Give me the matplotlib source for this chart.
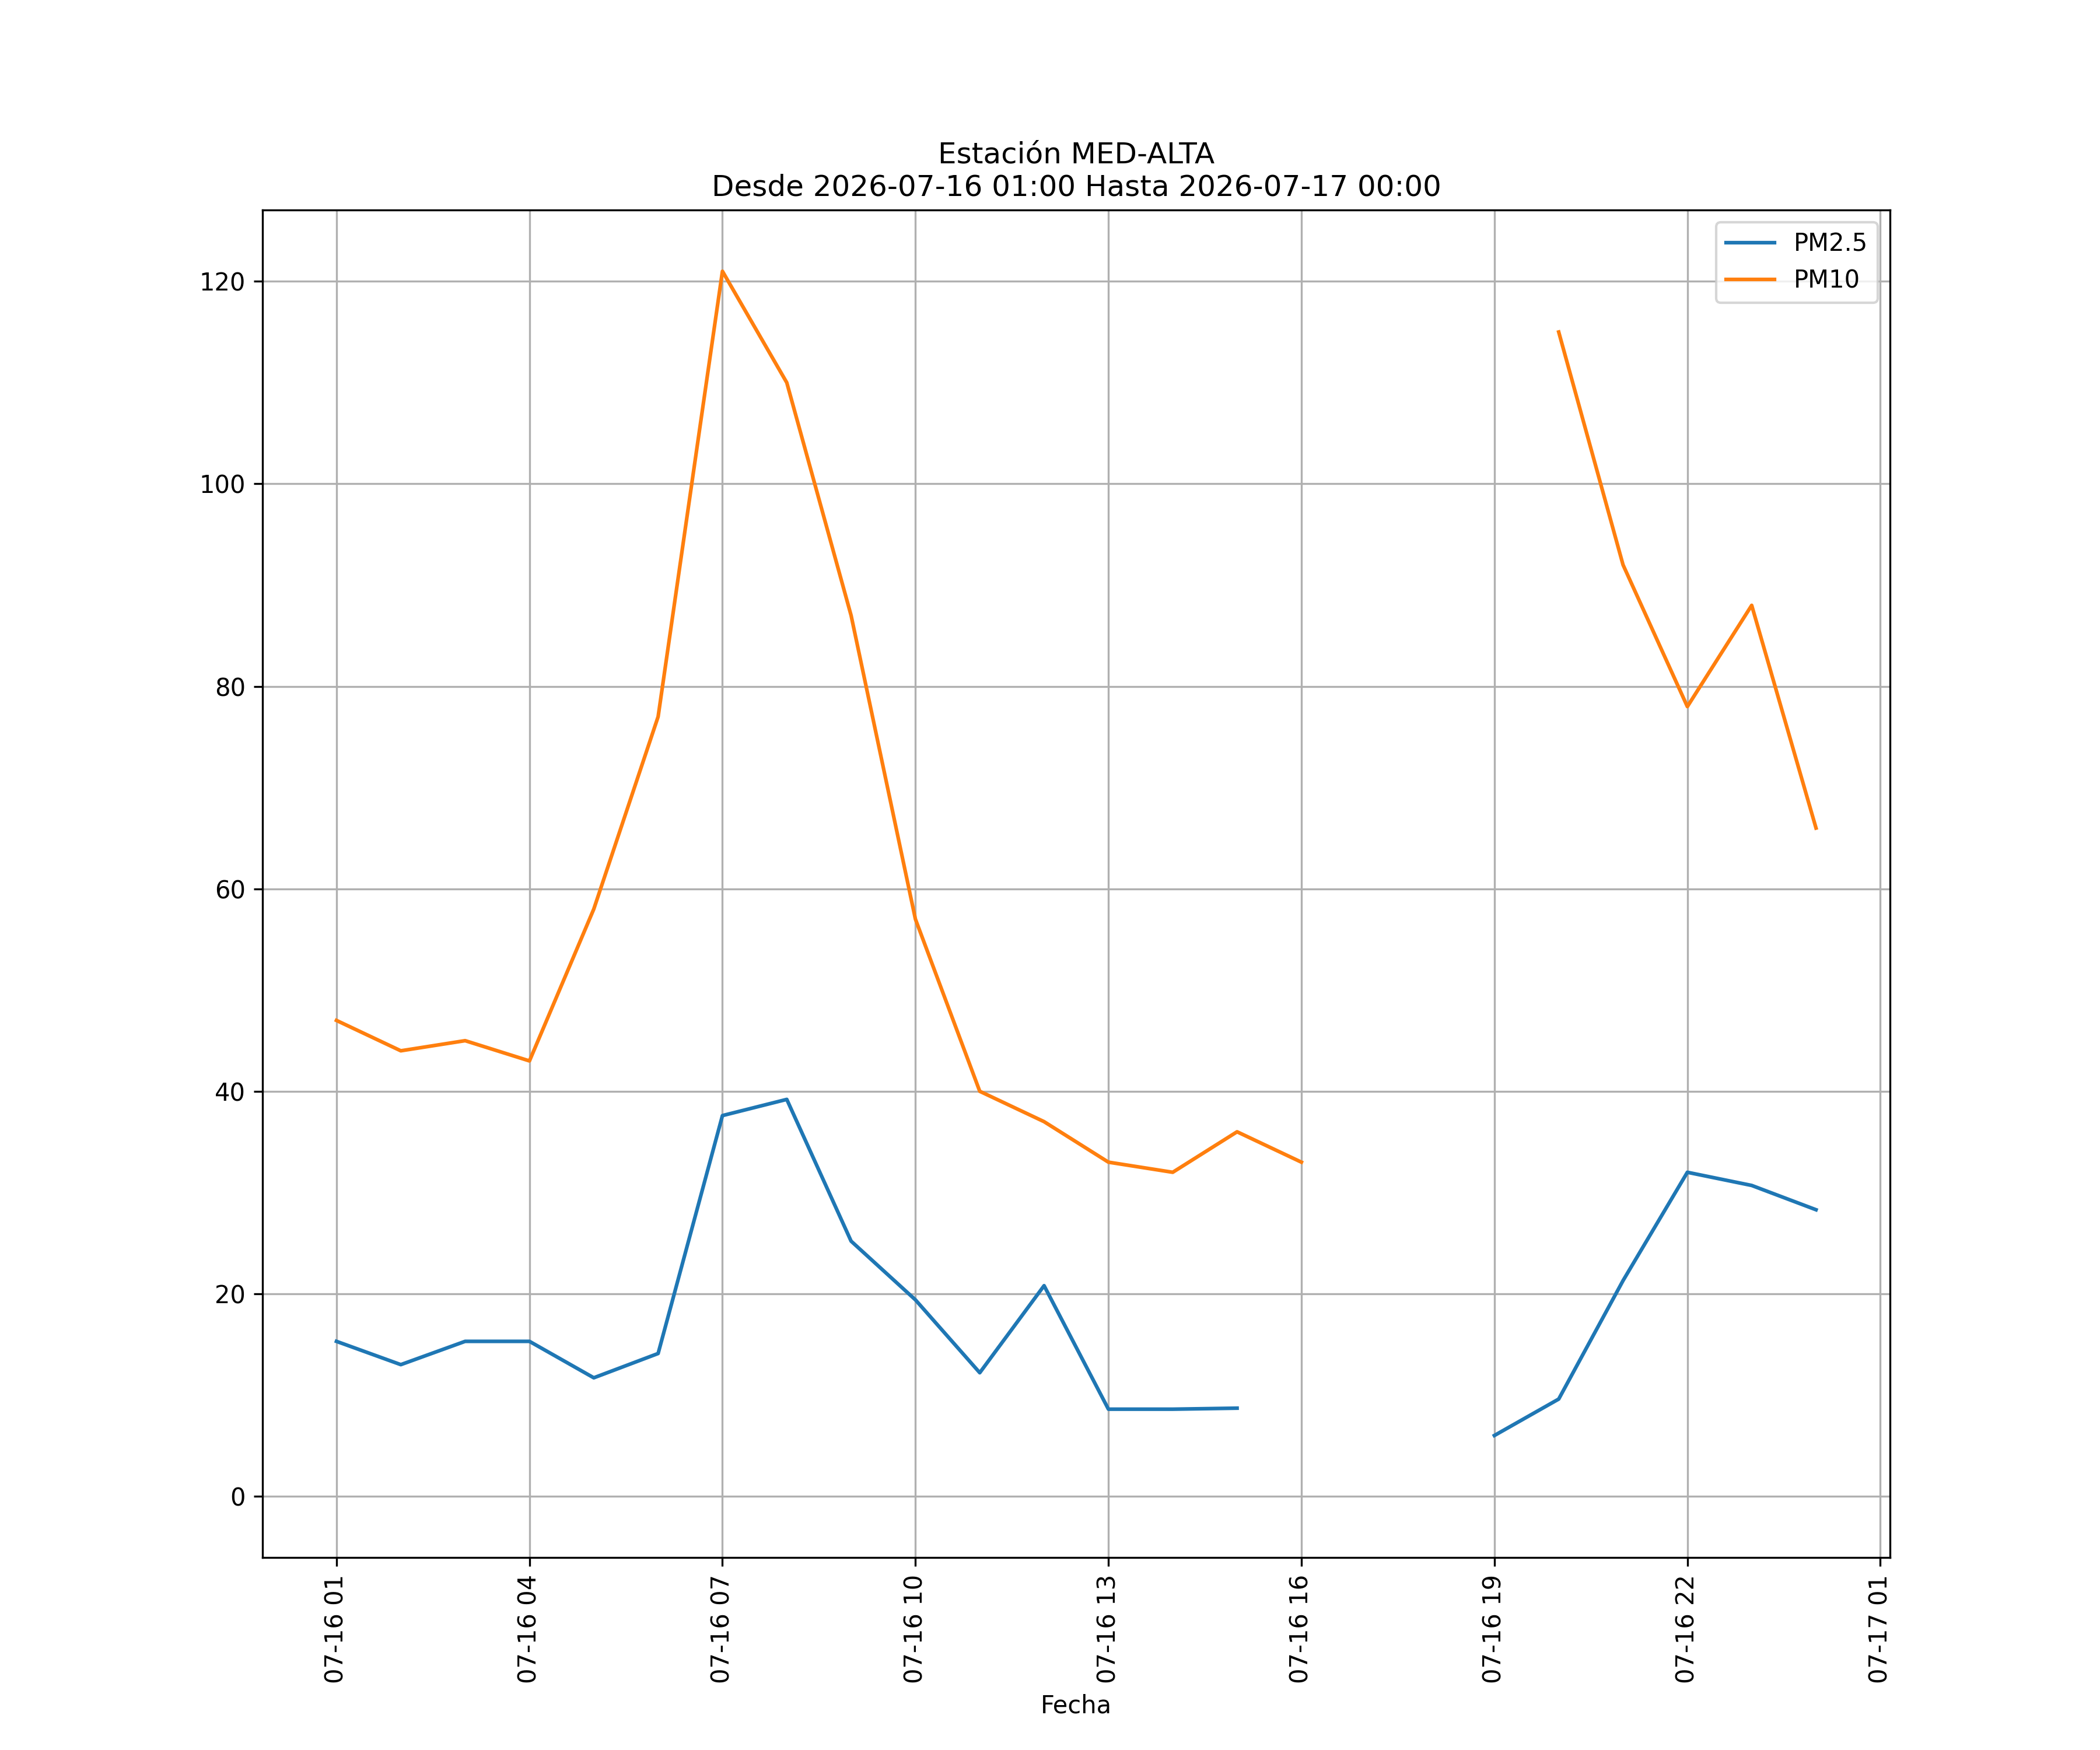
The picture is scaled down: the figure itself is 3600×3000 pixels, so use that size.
import numpy as np
import pandas as pd
import matplotlib
matplotlib.use("Agg")
import matplotlib.pyplot as plt
import matplotlib.dates as mdates

station = "MED-ALTA"
start = "2026-07-16 01:00"
end = "2026-07-17 00:00"

hours = pd.date_range(start, end, freq="h")
pm25 = [15.3, 13.0, 15.3, 15.3, 11.7, 14.1, 37.6, 39.2, 25.2, 19.4, 12.2, 20.8,
        8.6, 8.6, 8.7, np.nan, np.nan, np.nan, 6.0, 9.6, 21.3, 32.0, 30.7, 28.3]
pm10 = [47, 44, 45, 43, 58, 77, 121, 110, 87, 57, 40, 37,
        33, 32, 36, 33, np.nan, np.nan, np.nan, 115, 92, 78, 88, 66]

fig, ax = plt.subplots(figsize=(12, 10))
ax.plot(hours, pm25, label="PM2.5")
ax.plot(hours, pm10, label="PM10")
ax.set_ylim(-6.05, 127.05)
ax.xaxis.set_major_locator(mdates.HourLocator(byhour=range(1, 24, 3)))
ax.xaxis.set_major_formatter(mdates.DateFormatter("%m-%d %H"))
plt.setp(ax.get_xticklabels(), rotation=90)
ax.set_xlabel("Fecha")
ax.set_title(f"Estación {station}\nDesde {start} Hasta {end}")
ax.grid(True)
ax.legend(loc="upper right")
fig.savefig("out.png", dpi=300)
